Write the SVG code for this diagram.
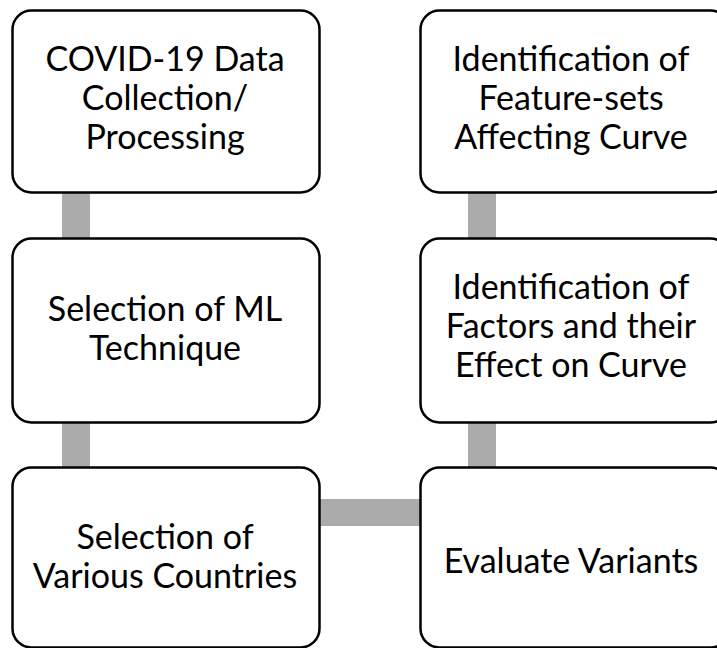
<svg xmlns="http://www.w3.org/2000/svg" width="717" height="648" viewBox="0 0 717 648">
<style>
.box{fill:#fff;stroke:#000;stroke-width:2.5}
.conn{fill:#ababab;stroke:none}
.t{font-family:Lato,"Open Sans","Liberation Sans",sans-serif;font-size:34px;fill:#000;text-anchor:middle}
</style>
<rect width="717" height="648" fill="#fff"/>
<g id="connectors">
<rect class="conn" x="62" y="190" width="28" height="50"/>
<rect class="conn" x="62" y="420" width="28" height="50"/>
<rect class="conn" x="318" y="499" width="104" height="27"/>
<rect class="conn" x="468" y="420" width="28" height="50"/>
<rect class="conn" x="468" y="190" width="28" height="50"/>
</g>
<g id="n1">
<rect class="box" x="12.5" y="10.5" width="307" height="182" rx="19"/>
<text class="t" x="165" y="71">COVID-19 Data</text>
<text class="t" x="165" y="110">Collection/</text>
<text class="t" x="165" y="149">Processing</text>
</g>
<g id="n2">
<rect class="box" x="12.5" y="238.5" width="307" height="184" rx="19"/>
<text class="t" x="165" y="321">Selection of ML</text>
<text class="t" x="165" y="360">Technique</text>
</g>
<g id="n3">
<rect class="box" x="12.5" y="467.5" width="307" height="180" rx="19"/>
<text class="t" x="165" y="549">Selection of</text>
<text class="t" x="165" y="588">Various Countries</text>
</g>
<g id="n4">
<rect class="box" x="420.5" y="467.5" width="309" height="180" rx="19"/>
<text class="t" x="571" y="573">Evaluate Variants</text>
</g>
<g id="n5">
<rect class="box" x="420.5" y="238.5" width="309" height="184" rx="19"/>
<text class="t" x="571" y="299">Identification of</text>
<text class="t" x="571" y="338">Factors and their</text>
<text class="t" x="571" y="377">Effect on Curve</text>
</g>
<g id="n6">
<rect class="box" x="420.5" y="10.5" width="309" height="182" rx="19"/>
<text class="t" x="571" y="71">Identification of</text>
<text class="t" x="571" y="110">Feature-sets</text>
<text class="t" x="571" y="149">Affecting Curve</text>
</g>
</svg>
